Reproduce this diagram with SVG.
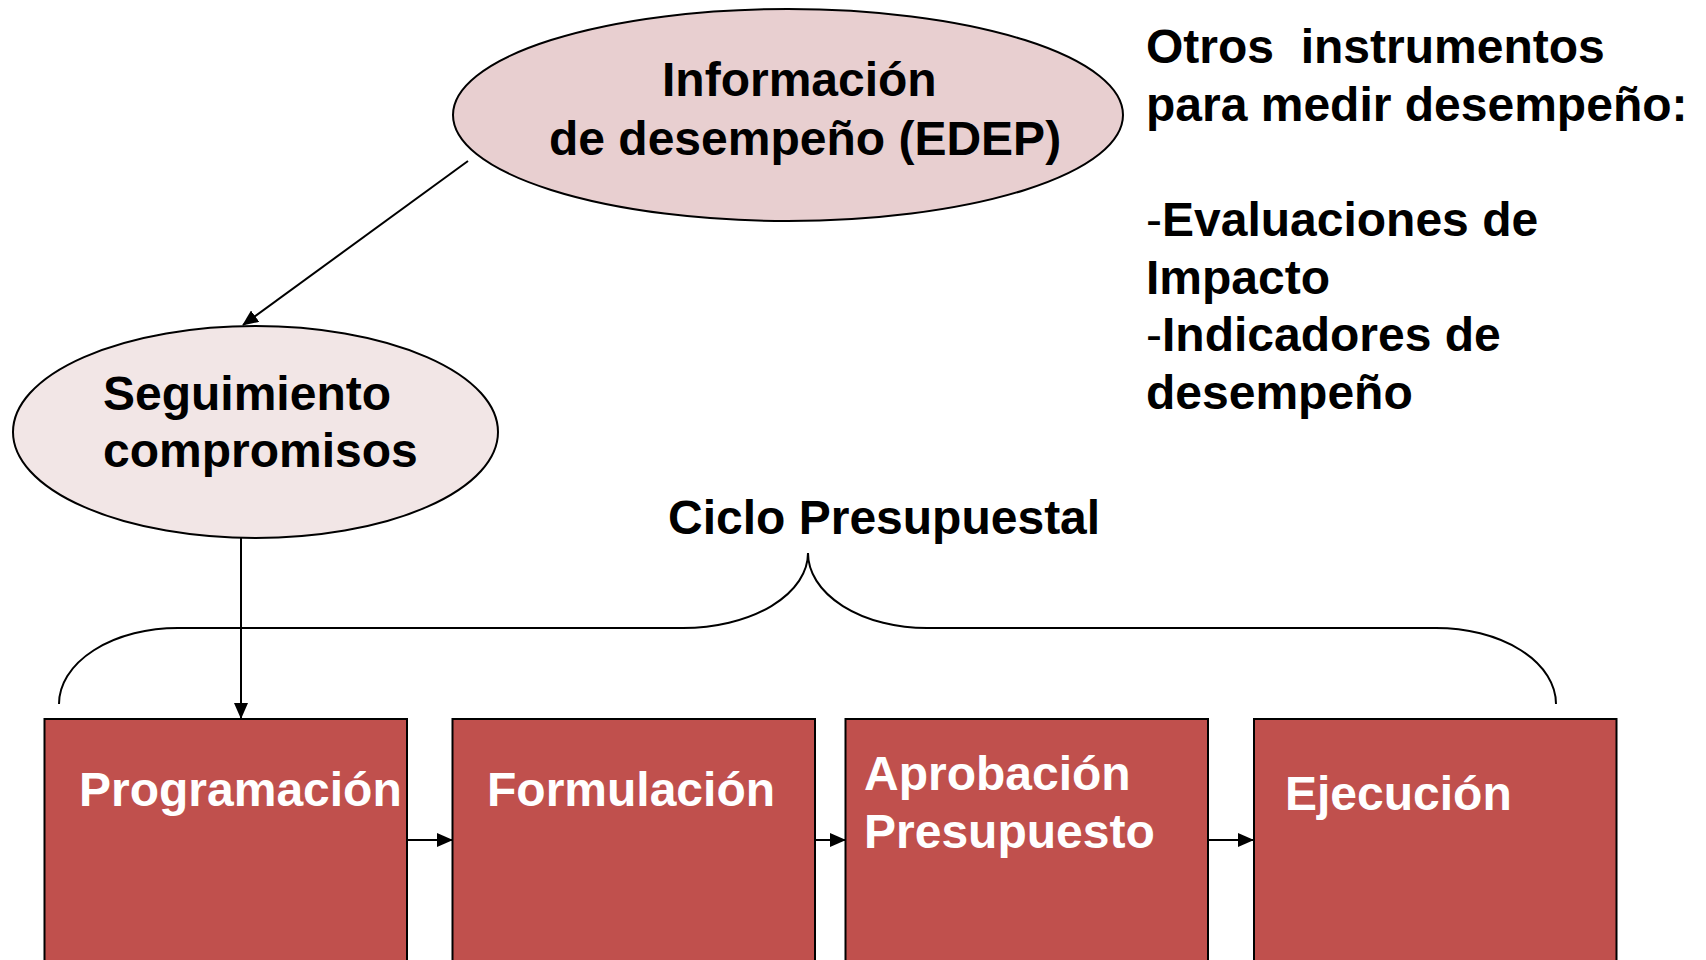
<svg xmlns="http://www.w3.org/2000/svg" width="1706" height="960" viewBox="0 0 1706 960">
<style>
text{font-family:"Liberation Sans",Arial,sans-serif;font-weight:bold;font-size:48px;fill:#000}
.w{fill:#fff}
.n{font-weight:normal}
.box{fill:#C0504D;stroke:#000;stroke-width:2}
.conn{stroke:#000;stroke-width:2;fill:none}
</style>
<defs>
<marker id="ah" markerUnits="userSpaceOnUse" markerWidth="16" markerHeight="14" refX="15" refY="7" orient="auto">
<path d="M0,0 L16,7 L0,14 Z" fill="#000"/>
</marker>
</defs>
<rect width="1706" height="960" fill="#fff"/>
<g id="connectors">
<line class="conn" x1="468" y1="161" x2="243" y2="325" marker-end="url(#ah)"/>
<line class="conn" x1="241" y1="538" x2="241" y2="718" marker-end="url(#ah)"/>
<line class="conn" x1="407" y1="840" x2="452" y2="840" marker-end="url(#ah)"/>
<line class="conn" x1="815" y1="840" x2="845" y2="840" marker-end="url(#ah)"/>
<line class="conn" x1="1208" y1="840" x2="1253" y2="840" marker-end="url(#ah)"/>
<path class="conn" d="M59,704 A119 76 0 0 1 178 628 L683,628 A125 75 0 0 0 808 553 A119 75 0 0 0 927 628 L1436,628 A120 76 0 0 1 1556 704"/>
</g>
<g id="edep">
<ellipse cx="788" cy="115" rx="335" ry="106" fill="#E8CFD0" stroke="#000" stroke-width="2"/>
<text x="662" y="96">Información</text>
<text x="549" y="155">de desempeño (EDEP)</text>
</g>
<g id="seguimiento">
<ellipse cx="255.5" cy="432" rx="242.5" ry="106" fill="#F2E6E6" stroke="#000" stroke-width="2"/>
<text x="103" y="410">Seguimiento</text>
<text x="103" y="467">compromisos</text>
</g>
<g id="ciclo">
<text x="668" y="534">Ciclo Presupuestal</text>
</g>
<g id="otros">
<text x="1146" y="63" xml:space="preserve">Otros  instrumentos</text>
<text x="1146" y="121">para medir desempeño:</text>
<text x="1146" y="236"><tspan class="n">-</tspan>Evaluaciones de</text>
<text x="1146" y="294">Impacto</text>
<text x="1146" y="351"><tspan class="n">-</tspan>Indicadores de</text>
<text x="1146" y="409">desempeño</text>
</g>
<g id="programacion">
<rect class="box" x="44.5" y="719" width="362.5" height="260"/>
<text class="w" x="79" y="806">Programación</text>
</g>
<g id="formulacion">
<rect class="box" x="452.5" y="719" width="362.5" height="260"/>
<text class="w" x="487" y="806">Formulación</text>
</g>
<g id="aprobacion">
<rect class="box" x="845.5" y="719" width="362.5" height="260"/>
<text class="w" x="864" y="790">Aprobación</text>
<text class="w" x="864" y="848">Presupuesto</text>
</g>
<g id="ejecucion">
<rect class="box" x="1254" y="719" width="362.5" height="260"/>
<text class="w" x="1285" y="810">Ejecución</text>
</g>
</svg>
